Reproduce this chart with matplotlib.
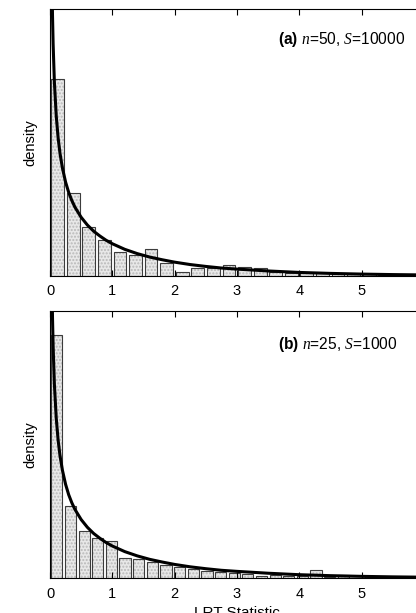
import matplotlib
matplotlib.use("Agg")
import matplotlib.pyplot as plt

plt.rcParams['font.family'] = ['Liberation Sans', 'DejaVu Sans']
plt.rcParams['mathtext.fontset'] = 'custom'
plt.rcParams['mathtext.it'] = 'Liberation Serif:italic'
plt.rcParams['mathtext.rm'] = 'Liberation Sans'
plt.rcParams['mathtext.bf'] = 'Liberation Sans:bold'

# histogram heights (density)
bin_a = 0.25
dens_a = [0.738, 0.310, 0.185, 0.135, 0.091, 0.077, 0.100, 0.048, 0.016, 0.031,
          0.029, 0.040, 0.032, 0.029, 0.016, 0.013, 0.012, 0.010, 0.008, 0.007,
          0.006, 0.005, 0.004, 0.004]
bin_b = 0.219
dens_b = [0.912, 0.272, 0.178, 0.150, 0.141, 0.075, 0.072, 0.060, 0.051, 0.041,
          0.035, 0.027, 0.025, 0.018, 0.015, 0.008, 0.012, 0.010, 0.008, 0.030,
          0.004, 0.012, 0.003, 0.008, 0.003, 0.002, 0.002]

# theoretical density curve (same in both panels)
curve_x = [0.01, 0.02, 0.03, 0.04, 0.05, 0.07, 0.10, 0.13, 0.16, 0.20, 0.25, 0.30,
           0.35, 0.40, 0.50, 0.60, 0.70, 0.80, 0.90, 1.0, 1.2, 1.4, 1.6, 1.8, 2.0,
           2.25, 2.5, 2.75, 3.0, 3.5, 4.0, 4.5, 5.0, 5.5, 6.0]
curve_y = [1.984, 1.396, 1.134, 0.977, 0.870, 0.728, 0.600, 0.518, 0.460, 0.404,
           0.352, 0.313, 0.283, 0.258, 0.220, 0.191, 0.168, 0.150, 0.134, 0.121,
           0.100, 0.084, 0.071, 0.061, 0.052, 0.043, 0.036, 0.030, 0.026, 0.019,
           0.0135, 0.0099, 0.0073, 0.0054, 0.0041]

labels = [r'$\mathbf{(a)}$ $n$=50, $S$=10000', r'$\mathbf{(b)}$ $n$=25, $S$=1000']
label_y = [0.884, 0.874]

fig = plt.figure(figsize=(4.16, 6.13), dpi=100)
ax_a = fig.add_axes([0.1202, 0.5497, 0.8986, 0.4356])
ax_b = fig.add_axes([0.1202, 0.0566, 0.8986, 0.4356])

panels = [(ax_a, dens_a, bin_a, labels[0], label_y[0]),
          (ax_b, dens_b, bin_b, labels[1], label_y[1])]
for ax, dens, w, lab, ly in panels:
    lefts = [0.02 + i * w for i in range(len(dens))]
    ax.bar(lefts, dens, width=0.82 * w, align='edge', color='#e8e8e8',
           hatch='.....', edgecolor='#b8b8b8', linewidth=0)
    ax.bar(lefts, dens, width=0.82 * w, align='edge', fill=False,
           edgecolor='#3c3c3c', linewidth=0.8)
    ax.plot(curve_x, curve_y, color='black', linewidth=2.2, solid_capstyle='butt')
    ax.set_xlim(0, 6)
    ax.set_ylim(0, 1)
    ax.set_yticks([])
    ax.set_xticks([0, 1, 2, 3, 4, 5])
    ax.tick_params(axis='x', direction='in', top=True, length=4, width=0.8,
                   labelsize=10.5, pad=6)
    for s in ax.spines.values():
        s.set_linewidth(0.8)
    ax.set_ylabel('density', fontsize=10.5, labelpad=9)
    ax.text(0.610, ly, lab, transform=ax.transAxes,
            ha='left', va='center', fontsize=11.2)

ax_b.set_xlabel('LRT Statistic', fontsize=11, labelpad=4)

fig.savefig('out.png', dpi=100)
